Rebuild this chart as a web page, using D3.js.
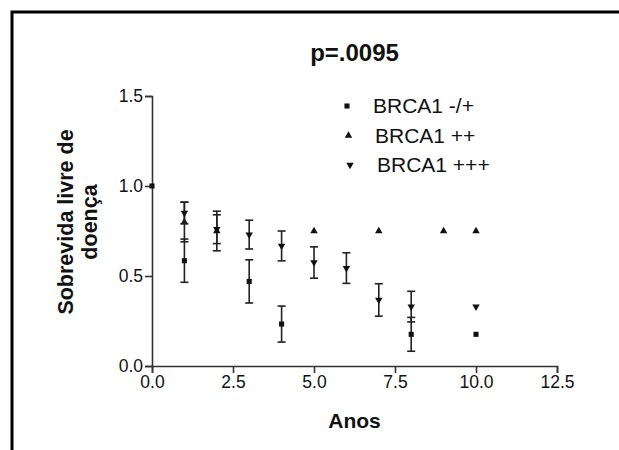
<!DOCTYPE html>
<html>
<head>
<meta charset="utf-8">
<script src="https://cdn.jsdelivr.net/npm/d3@7/dist/d3.min.js"></script>
<style>
  body { margin: 0; background: #fff; }
  text { font-family: "Liberation Sans", Arial, sans-serif; fill: #111; }
</style>
</head>
<body>
<script>
// group labels for the legend
var groups = ['BRCA1 -/+', 'BRCA1 ++', 'BRCA1 +++'];

// BRCA1 -/+  (squares)
var sqTimes = [0, 1, 3, 4, 8, 10];
var sqSurv  = [1.0, 0.585, 0.47, 0.233, 0.176, 0.176];
var sqErr   = [0, 0.12, 0.12, 0.10, 0.094, 0];

// BRCA1 ++  (triangles up)
var upTimes = [1, 2, 5, 7, 9, 10];
var upSurv  = [0.80, 0.75, 0.75, 0.75, 0.75, 0.75];
var upErr   = [0.11, 0.11, 0, 0, 0, 0];

// BRCA1 +++  (triangles down)
var dnTimes = [1, 2, 3, 4, 5, 6, 7, 8, 10];
var dnSurv  = [0.85, 0.76, 0.73, 0.667, 0.575, 0.544, 0.367, 0.33, 0.33];
var dnErr   = [0.06, 0.08, 0.08, 0.083, 0.087, 0.085, 0.09, 0.085, 0];

var xTicks = [0, 2.5, 5, 7.5, 10, 12.5];
var yTicks = [0, 0.5, 1.0, 1.5];

var W = 619, H = 450;
var margin = {top: 96, left: 152};
var w = 557 - margin.left;
var h = 366 - margin.top;

var svg = d3.select("body").append("svg")
    .attr("width", W)
    .attr("height", H);

// frame (top + left border only visible)
svg.append("path")
    .attr("d", "M12," + H + "V12H" + W)
    .attr("fill", "none")
    .attr("stroke", "#000")
    .attr("stroke-width", 3);

var g = svg.append("g")
    .attr("transform", "translate(" + margin.left + "," + margin.top + ")");

var x = d3.scaleLinear().domain([0, 12.5]).range([0, w]);
var y = d3.scaleLinear().domain([0, 1.5]).range([h, 0]);

// title
g.append("text")
    .attr("x", w / 2)
    .attr("y", -35)
    .attr("text-anchor", "middle")
    .style("font-size", "24px")
    .style("font-weight", "bold")
    .text("p=.0095");

// axes
var xAxis = d3.axisBottom(x).tickValues(xTicks).tickFormat(d3.format(".1f"))
    .tickSizeOuter(0).tickSize(7).tickPadding(3);
var yAxis = d3.axisLeft(y).tickValues(yTicks).tickFormat(d3.format(".1f"))
    .tickSizeOuter(0).tickSize(7).tickPadding(2);

var gx = g.append("g").attr("transform", "translate(0," + h + ")").call(xAxis);
var gy = g.append("g").call(yAxis);

[gx, gy].forEach(function(a) {
  a.select(".domain").attr("stroke", "#333").attr("stroke-width", 1.6);
  a.selectAll(".tick line").attr("stroke", "#333").attr("stroke-width", 1.6);
  a.selectAll(".tick text")
    .style("font-size", "17.5px")
    .style("font-family", "'Liberation Sans', Arial, sans-serif")
    .attr("fill", "#222");
});

// axis titles
g.append("text")
    .attr("x", w / 2)
    .attr("y", h + 62)
    .attr("text-anchor", "middle")
    .style("font-size", "21px")
    .style("font-weight", "bold")
    .text("Anos");

var yl = svg.append("text")
    .attr("transform", "translate(73,222) rotate(-90)")
    .attr("text-anchor", "middle")
    .style("font-size", "21.5px")
    .style("font-weight", "bold");
yl.append("tspan").attr("x", 0).attr("dy", 0).text("Sobrevida livre de");
yl.append("tspan").attr("x", 0).attr("dy", 24).text("doença");

// series
var series = [
  {name: groups[0], t: sqTimes, s: sqSurv, e: sqErr, sym: d3.symbolSquare, size: 26, rot: 0},
  {name: groups[1], t: upTimes, s: upSurv, e: upErr, sym: d3.symbolTriangle, size: 24, rot: 0},
  {name: groups[2], t: dnTimes, s: dnSurv, e: dnErr, sym: d3.symbolTriangle, size: 24, rot: 180}
];

var capW = 4;

series.forEach(function(sr) {
  var pts = sr.t.map(function(d, i) { return {t: d, s: sr.s[i], e: sr.e[i]}; });
  var withErr = pts.filter(function(d) { return d.e > 0; });

  var eb = g.append("g").selectAll("g")
      .data(withErr)
      .enter().append("g")
      .attr("stroke", "#222")
      .attr("stroke-width", 1.6);
  eb.append("line")
      .attr("x1", function(d) { return x(d.t); })
      .attr("x2", function(d) { return x(d.t); })
      .attr("y1", function(d) { return y(d.s + d.e); })
      .attr("y2", function(d) { return y(d.s - d.e); });
  eb.append("line")
      .attr("x1", function(d) { return x(d.t) - capW; })
      .attr("x2", function(d) { return x(d.t) + capW; })
      .attr("y1", function(d) { return y(d.s + d.e); })
      .attr("y2", function(d) { return y(d.s + d.e); });
  eb.append("line")
      .attr("x1", function(d) { return x(d.t) - capW; })
      .attr("x2", function(d) { return x(d.t) + capW; })
      .attr("y1", function(d) { return y(d.s - d.e); })
      .attr("y2", function(d) { return y(d.s - d.e); });

  g.append("g").selectAll("path")
      .data(pts)
      .enter().append("path")
      .attr("d", d3.symbol().type(sr.sym).size(sr.size))
      .attr("transform", function(d) {
        return "translate(" + x(d.t) + "," + y(d.s) + ") rotate(" + sr.rot + ")"; })
      .attr("fill", "#111");
});

// legend
var leg = svg.append("g").selectAll("g")
    .data(series)
    .enter().append("g")
    .attr("transform", function(d, i) {
      return "translate(" + (347 + i * 1.5) + "," + (106 + i * 29.5) + ")"; });

leg.append("path")
    .attr("d", function(d) { return d3.symbol().type(d.sym).size(d.size)(); })
    .attr("transform", function(d) { return "rotate(" + d.rot + ")"; })
    .attr("fill", "#111");

leg.append("text")
    .attr("x", function(d, i) { return 26 + i * 0.5; })
    .attr("y", 7)
    .style("font-size", "21px")
    .text(function(d) { return d.name; });
</script>
</body>
</html>
